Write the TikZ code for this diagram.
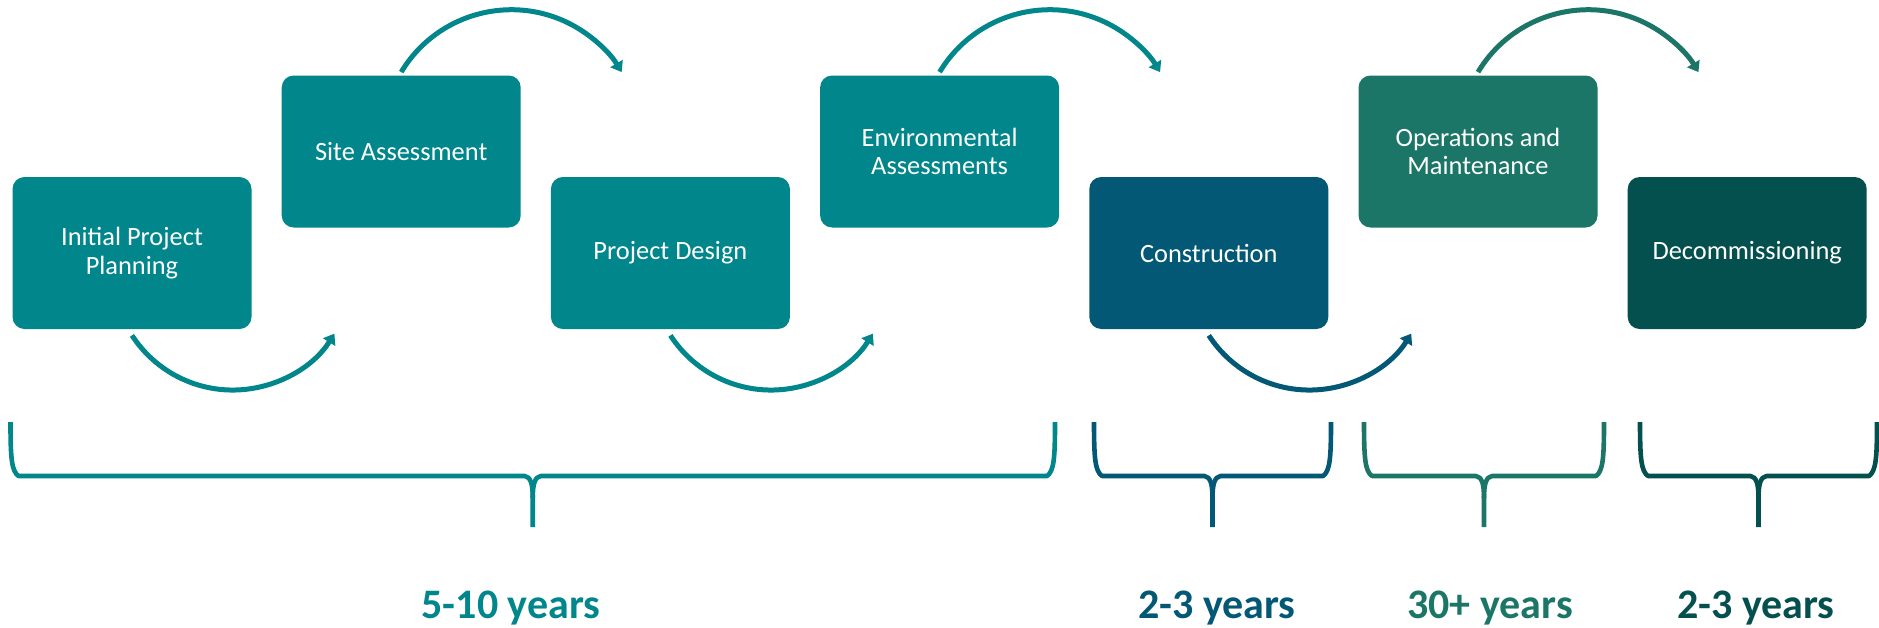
\documentclass[tikz,border=0pt]{standalone}
\usepackage{fontspec}
\setmainfont{Carlito}
\usepackage{xcolor}
\usetikzlibrary{arrows.meta}
\definecolor{phaseteal}{RGB}{0,134,139}
\definecolor{phaseblue}{RGB}{3,89,117}
\definecolor{phasegreen}{RGB}{27,118,103}
\definecolor{phasedark}{RGB}{4,80,78}
\newcommand{\timebrace}[3]{%
  \pgfmathsetmacro{\bmid}{(#1+#2)/2}
  \draw[bracket=#3] (#1,-422) .. controls (#1,-458) and (#1+1,-471) .. (#1+8,-476) -- (\bmid-8,-476) .. controls (\bmid-2,-477) and (\bmid,-484) .. (\bmid,-498) -- (\bmid,-527);
  \draw[bracket=#3] (#2,-422) .. controls (#2,-458) and (#2-1,-471) .. (#2-8,-476) -- (\bmid+8,-476) .. controls (\bmid+2,-477) and (\bmid,-484) .. (\bmid,-498);
}

\begin{document}
\begin{tikzpicture}[x=0.5pt,y=0.5pt,
    stage/.style={fill=#1, rounded corners=6pt, minimum width=119.5pt, minimum height=76pt,
      inner sep=0pt, text=white, align=center, font=\fontsize{13.2}{14.2}\selectfont},
    turn/.style={draw=#1, line width=2.5pt, -{Triangle[length=5pt,width=7pt]}},
    bracket/.style={draw=#1, line width=2.3pt, line join=round},
    years/.style={text=#1, anchor=base, font=\bfseries\fontsize{21}{24}\selectfont}]
    \useasboundingbox (0,0) rectangle (1879,-627);

    %Stages
    \node[stage=phaseteal]  (ipp) at (132,-253)    {Initial Project\\Planning};
    \node[stage=phaseteal]  (sa)  at (401.2,-151.5) {Site Assessment};
    \node[stage=phaseteal]  (pd)  at (670.4,-253)  {Project Design};
    \node[stage=phaseteal]  (ea)  at (939.6,-151.5) {Environmental\\Assessments};
    \node[stage=phaseblue]  (con) at (1208.8,-253) {Construction};
    \node[stage=phasegreen] (om)  at (1478,-151.5)  {Operations and\\Maintenance};
    \node[stage=phasedark]  (dec) at (1747.2,-253) {Decommissioning};

    %Down-and-up
    \draw[turn=phaseteal] ([yshift=-3pt]ipp.south) arc[start angle=213, end angle=328, radius=60pt];
    \draw[turn=phaseteal] ([yshift=-3pt]pd.south) arc[start angle=213, end angle=328, radius=60pt];
    \draw[turn=phaseblue] ([yshift=-3pt]con.south) arc[start angle=213, end angle=328, radius=60pt];

    %Up-and-down
    \draw[turn=phaseteal]  ([yshift=1.5pt]sa.north) arc[start angle=149, end angle=31, radius=64.3pt];
    \draw[turn=phaseteal]  ([yshift=1.5pt]ea.north) arc[start angle=149, end angle=31, radius=64.3pt];
    \draw[turn=phasegreen] ([yshift=1.5pt]om.north) arc[start angle=149, end angle=31, radius=64.3pt];

    %Durations
    \timebrace{10.5}{1055}{phaseteal}
    \timebrace{1094}{1331}{phaseblue}
    \timebrace{1364}{1604}{phasegreen}
    \timebrace{1640}{1877}{phasedark}
    \node[years=phaseteal]  (dev)  at (511,-618)  {5-10 years};
    \node[years=phaseblue]  (bld)  at (1217,-618) {2-3 years};
    \node[years=phasegreen] (run)  at (1490,-618) {30+ years};
    \node[years=phasedark]  (end)  at (1756,-618) {2-3 years};
\end{tikzpicture}
\end{document}
